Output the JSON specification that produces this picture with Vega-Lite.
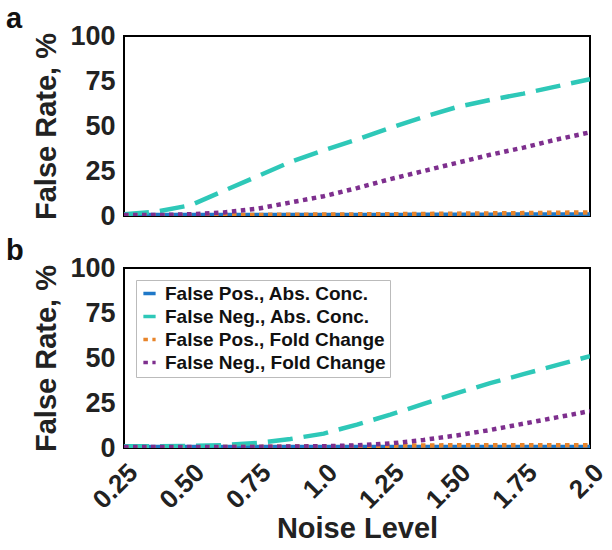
{
  "$schema": "https://vega.github.io/schema/vega-lite/v6.json",
  "background": "white",
  "padding": {"left": 5, "top": 4, "right": 0, "bottom": 0},
  "datasets": {
    "rates": [
      {"panel": "a", "series": "False Pos., Abs. Conc.", "x": 0.25, "y": 0.5},
      {"panel": "a", "series": "False Pos., Abs. Conc.", "x": 0.5, "y": 0.5},
      {"panel": "a", "series": "False Pos., Abs. Conc.", "x": 0.75, "y": 0.5},
      {"panel": "a", "series": "False Pos., Abs. Conc.", "x": 1.0, "y": 0.6},
      {"panel": "a", "series": "False Pos., Abs. Conc.", "x": 1.25, "y": 0.6},
      {"panel": "a", "series": "False Pos., Abs. Conc.", "x": 1.5, "y": 0.7},
      {"panel": "a", "series": "False Pos., Abs. Conc.", "x": 1.75, "y": 0.8},
      {"panel": "a", "series": "False Pos., Abs. Conc.", "x": 2.0, "y": 0.8},

      {"panel": "a", "series": "False Neg., Abs. Conc.", "x": 0.25, "y": 1},
      {"panel": "a", "series": "False Neg., Abs. Conc.", "x": 0.375, "y": 2.5},
      {"panel": "a", "series": "False Neg., Abs. Conc.", "x": 0.5, "y": 6},
      {"panel": "a", "series": "False Neg., Abs. Conc.", "x": 0.625, "y": 14},
      {"panel": "a", "series": "False Neg., Abs. Conc.", "x": 0.75, "y": 22},
      {"panel": "a", "series": "False Neg., Abs. Conc.", "x": 0.875, "y": 30},
      {"panel": "a", "series": "False Neg., Abs. Conc.", "x": 1.0, "y": 36.5},
      {"panel": "a", "series": "False Neg., Abs. Conc.", "x": 1.125, "y": 42.5},
      {"panel": "a", "series": "False Neg., Abs. Conc.", "x": 1.25, "y": 49},
      {"panel": "a", "series": "False Neg., Abs. Conc.", "x": 1.375, "y": 55},
      {"panel": "a", "series": "False Neg., Abs. Conc.", "x": 1.5, "y": 60.5},
      {"panel": "a", "series": "False Neg., Abs. Conc.", "x": 1.625, "y": 64.5},
      {"panel": "a", "series": "False Neg., Abs. Conc.", "x": 1.75, "y": 68},
      {"panel": "a", "series": "False Neg., Abs. Conc.", "x": 1.875, "y": 72},
      {"panel": "a", "series": "False Neg., Abs. Conc.", "x": 2.0, "y": 76},

      {"panel": "a", "series": "False Pos., Fold Change", "x": 0.25, "y": 0.3},
      {"panel": "a", "series": "False Pos., Fold Change", "x": 0.5, "y": 0.4},
      {"panel": "a", "series": "False Pos., Fold Change", "x": 0.75, "y": 0.6},
      {"panel": "a", "series": "False Pos., Fold Change", "x": 1.0, "y": 0.8},
      {"panel": "a", "series": "False Pos., Fold Change", "x": 1.25, "y": 1.0},
      {"panel": "a", "series": "False Pos., Fold Change", "x": 1.5, "y": 1.3},
      {"panel": "a", "series": "False Pos., Fold Change", "x": 1.75, "y": 1.6},
      {"panel": "a", "series": "False Pos., Fold Change", "x": 2.0, "y": 2},

      {"panel": "a", "series": "False Neg., Fold Change", "x": 0.25, "y": 0.5},
      {"panel": "a", "series": "False Neg., Fold Change", "x": 0.375, "y": 0.5},
      {"panel": "a", "series": "False Neg., Fold Change", "x": 0.5, "y": 1},
      {"panel": "a", "series": "False Neg., Fold Change", "x": 0.625, "y": 2},
      {"panel": "a", "series": "False Neg., Fold Change", "x": 0.75, "y": 4},
      {"panel": "a", "series": "False Neg., Fold Change", "x": 0.875, "y": 7.5},
      {"panel": "a", "series": "False Neg., Fold Change", "x": 1.0, "y": 11},
      {"panel": "a", "series": "False Neg., Fold Change", "x": 1.125, "y": 15.5},
      {"panel": "a", "series": "False Neg., Fold Change", "x": 1.25, "y": 20.5},
      {"panel": "a", "series": "False Neg., Fold Change", "x": 1.375, "y": 25},
      {"panel": "a", "series": "False Neg., Fold Change", "x": 1.5, "y": 29.5},
      {"panel": "a", "series": "False Neg., Fold Change", "x": 1.625, "y": 34},
      {"panel": "a", "series": "False Neg., Fold Change", "x": 1.75, "y": 38},
      {"panel": "a", "series": "False Neg., Fold Change", "x": 1.875, "y": 42.5},
      {"panel": "a", "series": "False Neg., Fold Change", "x": 2.0, "y": 46.5},

      {"panel": "b", "series": "False Pos., Abs. Conc.", "x": 0.25, "y": 0.5},
      {"panel": "b", "series": "False Pos., Abs. Conc.", "x": 0.5, "y": 0.5},
      {"panel": "b", "series": "False Pos., Abs. Conc.", "x": 0.75, "y": 0.6},
      {"panel": "b", "series": "False Pos., Abs. Conc.", "x": 1.0, "y": 0.6},
      {"panel": "b", "series": "False Pos., Abs. Conc.", "x": 1.25, "y": 0.6},
      {"panel": "b", "series": "False Pos., Abs. Conc.", "x": 1.5, "y": 0.6},
      {"panel": "b", "series": "False Pos., Abs. Conc.", "x": 1.75, "y": 0.6},
      {"panel": "b", "series": "False Pos., Abs. Conc.", "x": 2.0, "y": 0.6},

      {"panel": "b", "series": "False Neg., Abs. Conc.", "x": 0.25, "y": 1},
      {"panel": "b", "series": "False Neg., Abs. Conc.", "x": 0.375, "y": 1},
      {"panel": "b", "series": "False Neg., Abs. Conc.", "x": 0.5, "y": 1.1},
      {"panel": "b", "series": "False Neg., Abs. Conc.", "x": 0.625, "y": 1.6},
      {"panel": "b", "series": "False Neg., Abs. Conc.", "x": 0.75, "y": 2.8},
      {"panel": "b", "series": "False Neg., Abs. Conc.", "x": 0.875, "y": 5},
      {"panel": "b", "series": "False Neg., Abs. Conc.", "x": 1.0, "y": 8},
      {"panel": "b", "series": "False Neg., Abs. Conc.", "x": 1.125, "y": 13},
      {"panel": "b", "series": "False Neg., Abs. Conc.", "x": 1.25, "y": 18.5},
      {"panel": "b", "series": "False Neg., Abs. Conc.", "x": 1.375, "y": 24.5},
      {"panel": "b", "series": "False Neg., Abs. Conc.", "x": 1.5, "y": 30.5},
      {"panel": "b", "series": "False Neg., Abs. Conc.", "x": 1.625, "y": 36},
      {"panel": "b", "series": "False Neg., Abs. Conc.", "x": 1.75, "y": 41},
      {"panel": "b", "series": "False Neg., Abs. Conc.", "x": 1.875, "y": 46},
      {"panel": "b", "series": "False Neg., Abs. Conc.", "x": 2.0, "y": 51},

      {"panel": "b", "series": "False Pos., Fold Change", "x": 0.25, "y": 0.3},
      {"panel": "b", "series": "False Pos., Fold Change", "x": 0.5, "y": 0.4},
      {"panel": "b", "series": "False Pos., Fold Change", "x": 0.75, "y": 0.6},
      {"panel": "b", "series": "False Pos., Fold Change", "x": 1.0, "y": 0.9},
      {"panel": "b", "series": "False Pos., Fold Change", "x": 1.25, "y": 1.3},
      {"panel": "b", "series": "False Pos., Fold Change", "x": 1.5, "y": 1.5},
      {"panel": "b", "series": "False Pos., Fold Change", "x": 1.75, "y": 1.5},
      {"panel": "b", "series": "False Pos., Fold Change", "x": 2.0, "y": 1.5},

      {"panel": "b", "series": "False Neg., Fold Change", "x": 0.25, "y": 0.5},
      {"panel": "b", "series": "False Neg., Fold Change", "x": 0.5, "y": 0.5},
      {"panel": "b", "series": "False Neg., Fold Change", "x": 0.75, "y": 0.6},
      {"panel": "b", "series": "False Neg., Fold Change", "x": 0.875, "y": 0.8},
      {"panel": "b", "series": "False Neg., Fold Change", "x": 1.0, "y": 1.0},
      {"panel": "b", "series": "False Neg., Fold Change", "x": 1.125, "y": 1.5},
      {"panel": "b", "series": "False Neg., Fold Change", "x": 1.25, "y": 2.5},
      {"panel": "b", "series": "False Neg., Fold Change", "x": 1.375, "y": 4.5},
      {"panel": "b", "series": "False Neg., Fold Change", "x": 1.5, "y": 7},
      {"panel": "b", "series": "False Neg., Fold Change", "x": 1.625, "y": 10},
      {"panel": "b", "series": "False Neg., Fold Change", "x": 1.75, "y": 13.5},
      {"panel": "b", "series": "False Neg., Fold Change", "x": 1.875, "y": 17},
      {"panel": "b", "series": "False Neg., Fold Change", "x": 2.0, "y": 20.5}
    ]
  },
  "config": {
    "font": "Liberation Sans",
    "view": {"stroke": "black", "strokeWidth": 2},
    "axis": {
      "grid": false,
      "domain": false,
      "ticks": false,
      "labelFont": "Liberation Sans",
      "labelFontWeight": "bold",
      "labelFontSize": 27,
      "labelColor": "#222222",
      "titleFont": "Liberation Sans",
      "titleFontWeight": "bold",
      "titleFontSize": 29,
      "titleColor": "#222222"
    },
    "title": {"font": "Liberation Sans", "fontWeight": "bold", "fontSize": 29, "color": "#111111", "anchor": "start", "frame": "group"}
  },
  "spacing": 6,
  "resolve": {"legend": {"color": "independent", "strokeDash": "independent"}},
  "vconcat": [
    {
      "width": 466,
      "height": 180,
      "title": {"text": "a", "dx": -118, "offset": -12},
      "data": {"name": "rates"},
      "transform": [{"filter": "datum.panel == 'a'"}],
      "mark": {"type": "line", "strokeWidth": 4.5, "clip": true},
      "encoding": {
        "x": {"field": "x", "type": "quantitative", "scale": {"domain": [0.25, 2], "nice": false, "zero": false},
          "axis": {"values": [0.25, 0.5, 0.75, 1, 1.25, 1.5, 1.75, 2], "labels": false, "title": null}},
        "y": {"field": "y", "type": "quantitative", "scale": {"domain": [0, 100]},
          "axis": {"values": [0, 25, 50, 75, 100], "title": "False Rate, %", "labelPadding": 9, "titlePadding": 8}},
        "color": {"field": "series", "type": "nominal", "legend": null,
          "scale": {"domain": ["False Pos., Abs. Conc.", "False Neg., Abs. Conc.", "False Pos., Fold Change", "False Neg., Fold Change"],
            "range": ["#1F78C8", "#2EC8B8", "#E8842A", "#7E2F8E"]}},
        "strokeDash": {"field": "series", "type": "nominal", "legend": null,
          "scale": {"domain": ["False Pos., Abs. Conc.", "False Neg., Abs. Conc.", "False Pos., Fold Change", "False Neg., Fold Change"],
            "range": [[1, 0], [25, 11], [4.5, 4.5], [4.5, 4.5]]}}
      }
    },
    {
      "width": 466,
      "height": 180,
      "title": {"text": "b", "dx": -118, "offset": -12},
      "data": {"name": "rates"},
      "transform": [{"filter": "datum.panel == 'b'"}],
      "mark": {"type": "line", "strokeWidth": 4.5, "clip": true},
      "encoding": {
        "x": {"field": "x", "type": "quantitative", "scale": {"domain": [0.25, 2], "nice": false, "zero": false},
          "axis": {"values": [0.25, 0.5, 0.75, 1, 1.25, 1.5, 1.75, 2], "title": "Noise Level", "labelAngle": -45, "labelPadding": 11, "titlePadding": 1, "labelFontSize": 26,
            "labelExpr": "datum.value == 1 ? '1.0' : datum.value == 2 ? '2.0' : format(datum.value, '.2f')"}},
        "y": {"field": "y", "type": "quantitative", "scale": {"domain": [0, 100]},
          "axis": {"values": [0, 25, 50, 75, 100], "title": "False Rate, %", "labelPadding": 9, "titlePadding": 8}},
        "color": {"field": "series", "type": "nominal", "title": null,
          "scale": {"domain": ["False Pos., Abs. Conc.", "False Neg., Abs. Conc.", "False Pos., Fold Change", "False Neg., Fold Change"],
            "range": ["#1F78C8", "#2EC8B8", "#E8842A", "#7E2F8E"]},
          "legend": {"orient": "top-left", "offset": 12, "symbolType": "stroke", "symbolSize": 150, "symbolStrokeWidth": 3.5,
            "labelFontSize": 19, "labelFontWeight": "bold", "labelColor": "#111111", "labelFont": "Liberation Sans", "labelOffset": 6,
            "strokeColor": "#BBBBBB", "fillColor": "white", "padding": 4, "rowPadding": 3, "labelLimit": 300}},
        "strokeDash": {"field": "series", "type": "nominal", "title": null,
          "scale": {"domain": ["False Pos., Abs. Conc.", "False Neg., Abs. Conc.", "False Pos., Fold Change", "False Neg., Fold Change"],
            "range": [[1, 0], [25, 11], [3, 3], [3, 3]]},
          "legend": {"orient": "top-left", "offset": 12, "symbolType": "stroke", "symbolSize": 150, "symbolStrokeWidth": 3.5,
            "labelFontSize": 19, "labelFontWeight": "bold", "labelColor": "#111111", "labelFont": "Liberation Sans", "labelOffset": 6,
            "strokeColor": "#BBBBBB", "fillColor": "white", "padding": 4, "rowPadding": 3, "labelLimit": 300}}
      }
    }
  ]
}
